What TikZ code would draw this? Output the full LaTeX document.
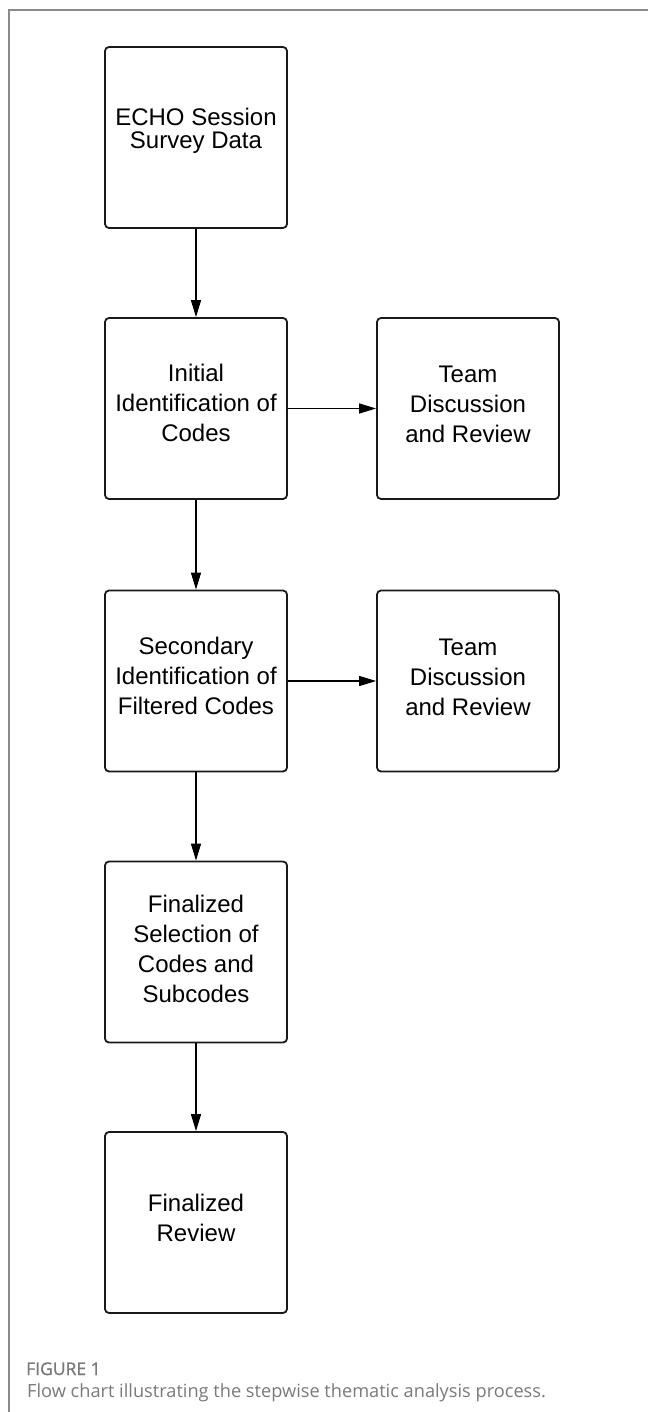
\documentclass[tikz,border=0pt]{standalone}
\usepackage{fontspec}
\setmainfont{Liberation Sans}
\newfontfamily\capfont{Open Sans}
\newfontfamily\capbold[FakeBold=1.2]{Open Sans}
\usetikzlibrary{arrows.meta}
\definecolor{framegray}{HTML}{8A8A8A}
\definecolor{capgray}{HTML}{7A7A7A}
\newcommand{\boxtext}[2]{\raisebox{#1}[\height][\depth]{\begin{tabular}{@{}c@{}}#2\end{tabular}}}
\begin{document}
\begin{tikzpicture}[x=1pt,y=-1pt,
  stepbox/.style={draw=black!90, line width=1.8pt, rounded corners=4pt,
    minimum width=182pt, minimum height=181pt, inner sep=0pt,
    font=\fontsize{24}{30}\selectfont},
  tightbox/.style={stepbox, font=\fontsize{24}{22}\selectfont},
  flow/.style={-{Triangle[length=17pt,width=10pt]}, line width=1.3pt, black},
  captext/.style={anchor=base west, inner sep=0pt, text=capgray}
  ]
\useasboundingbox (0,0) rectangle (648,1412);
\fill[white] (0,0) rectangle (648,1412);
\draw[framegray, line width=1.3pt] (648,10) -- (9,10) -- (9,1412);

\node[tightbox] (b1) at (196,137.5) {\boxtext{6pt}{ECHO Session\\Survey Data}};
\node[stepbox] (b2) at (196,408.5) {\boxtext{3pt}{Initial\\Identification of\\Codes}};
\node[stepbox] (b3) at (196,681) {\boxtext{3pt}{Secondary\\Identification of\\Filtered Codes}};
\node[stepbox] (b4) at (196,952) {\boxtext{1pt}{Finalized\\Selection of\\Codes and\\Subcodes}};
\node[stepbox] (b5) at (196,1222.5) {\boxtext{2pt}{Finalized\\Review}};
\node[stepbox] (t1) at (468,408.5) {\boxtext{2pt}{Team\\Discussion\\and Review}};
\node[stepbox] (t2) at (468,681) {\boxtext{2pt}{Team\\Discussion\\and Review}};

\draw[flow] (b1) -- (b2);
\draw[flow] (b2) -- (b3);
\draw[flow] (b3) -- (b4);
\draw[flow] (b4) -- (b5);
\draw[flow] (b2) -- (t1);
\draw[flow] (b3) -- (t2);

\node[captext, font=\capbold\fontsize{17.5}{20}\selectfont] (figlabel) at (26,1375) {FIGURE 1};
\node[captext, font=\capfont\fontsize{18.2}{21}\selectfont] (caption) at (27,1397) {Flow chart illustrating the stepwise thematic analysis process.};
\end{tikzpicture}
\end{document}
